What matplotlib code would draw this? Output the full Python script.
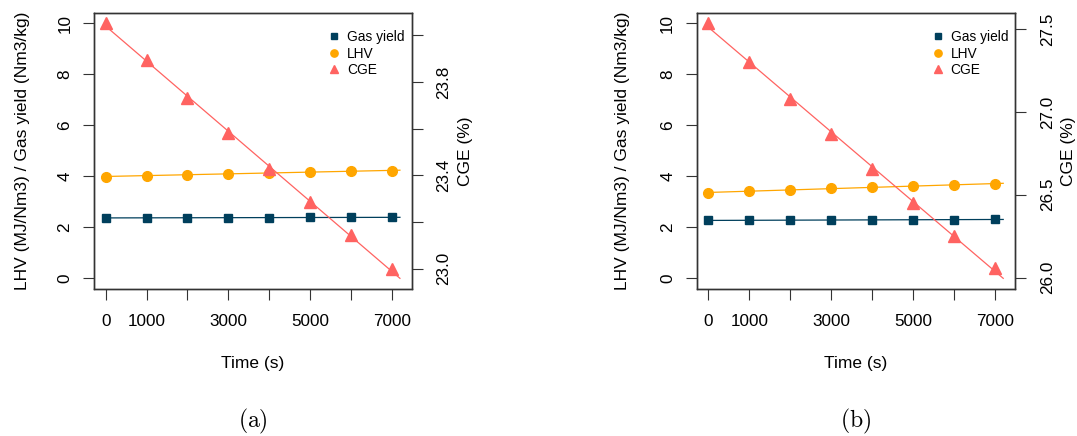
import numpy as np
import matplotlib
matplotlib.use("Agg")
import matplotlib.pyplot as plt
from matplotlib.ticker import FixedLocator

plt.rcParams['font.family'] = ['Liberation Sans', 'DejaVu Sans']
plt.rcParams['mathtext.fontset'] = 'cm'

# ---- data ----
time_s = [0, 1000, 2000, 3000, 4000, 5000, 6000, 7000]
time_ticks = [0, 1000, 2000, 3000, 4000, 5000, 6000, 7000]
time_ticklabels = ["0", "1000", "", "3000", "", "5000", "", "7000"]
time_line_end = 7200

gas_yield_a = [2.37, 2.37, 2.38, 2.38, 2.38, 2.39, 2.39, 2.39]
lhv_a = [3.99, 4.03, 4.07, 4.10, 4.14, 4.17, 4.20, 4.23]
cge_a = [24.05, 23.893, 23.732, 23.579, 23.427, 23.284, 23.143, 23.00]
cge_ticks_a = [23.0, 23.2, 23.4, 23.6, 23.8, 24.0]
cge_ticklabels_a = ["23.0", "", "23.4", "", "23.8", ""]

gas_yield_b = [2.27, 2.28, 2.28, 2.29, 2.29, 2.30, 2.30, 2.31]
lhv_b = [3.36, 3.42, 3.47, 3.53, 3.57, 3.62, 3.67, 3.71]
cge_b = [27.533, 27.302, 27.079, 26.864, 26.655, 26.450, 26.253, 26.059]
cge_ticks_b = [26.0, 26.5, 27.0, 27.5]
cge_ticklabels_b = ["26.0", "26.5", "27.0", "27.5"]

left_ticks = [0, 2, 4, 6, 8, 10]
left_range = (0, 10)
panel_labels = ["(a)", "(b)"]

C_GAS = "#003f5c"
C_LHV = "#ffa600"
C_CGE = "#ff6361"
C_AX = "#333333"

W, H = 1077, 436
fig = plt.figure(figsize=(W / 100, H / 100), dpi=100)


def pad_range(lo, hi, frac=0.04):
    r = hi - lo
    return lo - frac * r, hi + frac * r


def fit_line(x, y, xend):
    p = np.polyfit(x, y, 1)
    xx = np.array([0.0, xend])
    return xx, np.polyval(p, xx)


def panel(rect, gas, lhv, cge, rticks, rlabels, plabel, ylab_x, rlab_x):
    ax = fig.add_axes(rect)
    ax2 = ax.twinx()
    x = np.array(time_s, dtype=float)
    lw = 0.9
    # lines (linear fits extended)
    xx, yy = fit_line(x, gas, time_line_end)
    ax.plot(xx, yy, color=C_GAS, lw=lw)
    xx, yy = fit_line(x, lhv, time_line_end)
    ax.plot(xx, yy, color=C_LHV, lw=lw)
    h1, = ax.plot(x, gas, 's', color=C_GAS, ms=6.2, label="Gas yield")
    h2, = ax.plot(x, lhv, 'o', color=C_LHV, ms=7, label="LHV")
    xx, cyy = fit_line(x, cge, time_line_end)
    ax2.plot(xx, cyy, color=C_CGE, lw=lw)
    h3, = ax2.plot(x, cge, '^', color=C_CGE, ms=8, label="CGE")

    ax.set_xlim(*pad_range(0, time_line_end))
    ax.set_ylim(*pad_range(*left_range))
    lo = min(np.min(cyy), np.min(cge))
    hi = max(np.max(cyy), np.max(cge))
    ax2.set_ylim(*pad_range(lo, hi))

    ax.xaxis.set_major_locator(FixedLocator(time_ticks))
    ax.set_xticklabels(time_ticklabels)
    ax.set_yticks(left_ticks)
    ax.set_yticklabels([str(t) for t in left_ticks], rotation=90, va='center')
    ax2.yaxis.set_major_locator(FixedLocator(rticks))
    ax2.set_yticklabels(rlabels, rotation=90, va='center')

    for a in (ax, ax2):
        a.tick_params(direction='out', length=7.6, width=0.8, labelsize=12.3, color=C_AX)
        for s in a.spines.values():
            s.set_linewidth(1.0)
            s.set_color(C_AX)
    ax.tick_params(axis='x', pad=10.8)
    ax.tick_params(axis='y', pad=7.8)
    ax2.tick_params(axis='y', pad=10.3)

    ax.set_xlabel("Time (s)", fontsize=12.5, va='center')
    ax.xaxis.set_label_coords(0.5, -0.272)
    ax.set_ylabel("LHV (MJ/Nm3) / Gas yield (Nm3/kg)", fontsize=12.5, va='center')
    ax.yaxis.set_label_coords(ylab_x, 0.5)
    ax2.set_ylabel("CGE (%)", fontsize=12.5, va='center', rotation=90)
    ax2.yaxis.set_label_coords(rlab_x, 0.5)

    ax2.legend(handles=[h1, h2, h3], loc='upper right', bbox_to_anchor=(1.0, 0.965),
               frameon=False, fontsize=9.9, handlelength=0.8, handletextpad=0.55,
               labelspacing=0.2, borderaxespad=0.3, borderpad=0.2,
               markerscale=0.75)
    ax.text(0.5, -0.484, r"$\mathrm{" + plabel + "}$", transform=ax.transAxes,
            ha='center', va='center', fontsize=17)
    return ax


bottom = (H - 288.5) / H
height = 275.2 / H
panel([94 / W, bottom, 317.7 / W, height], gas_yield_a, lhv_a, cge_a,
      cge_ticks_a, cge_ticklabels_a, panel_labels[0], -0.225, 1.168)
panel([696.6 / W, bottom, 318.4 / W, height], gas_yield_b, lhv_b, cge_b,
      cge_ticks_b, cge_ticklabels_b, panel_labels[1], -0.233, 1.169)

fig.savefig("out.png", dpi=100)
